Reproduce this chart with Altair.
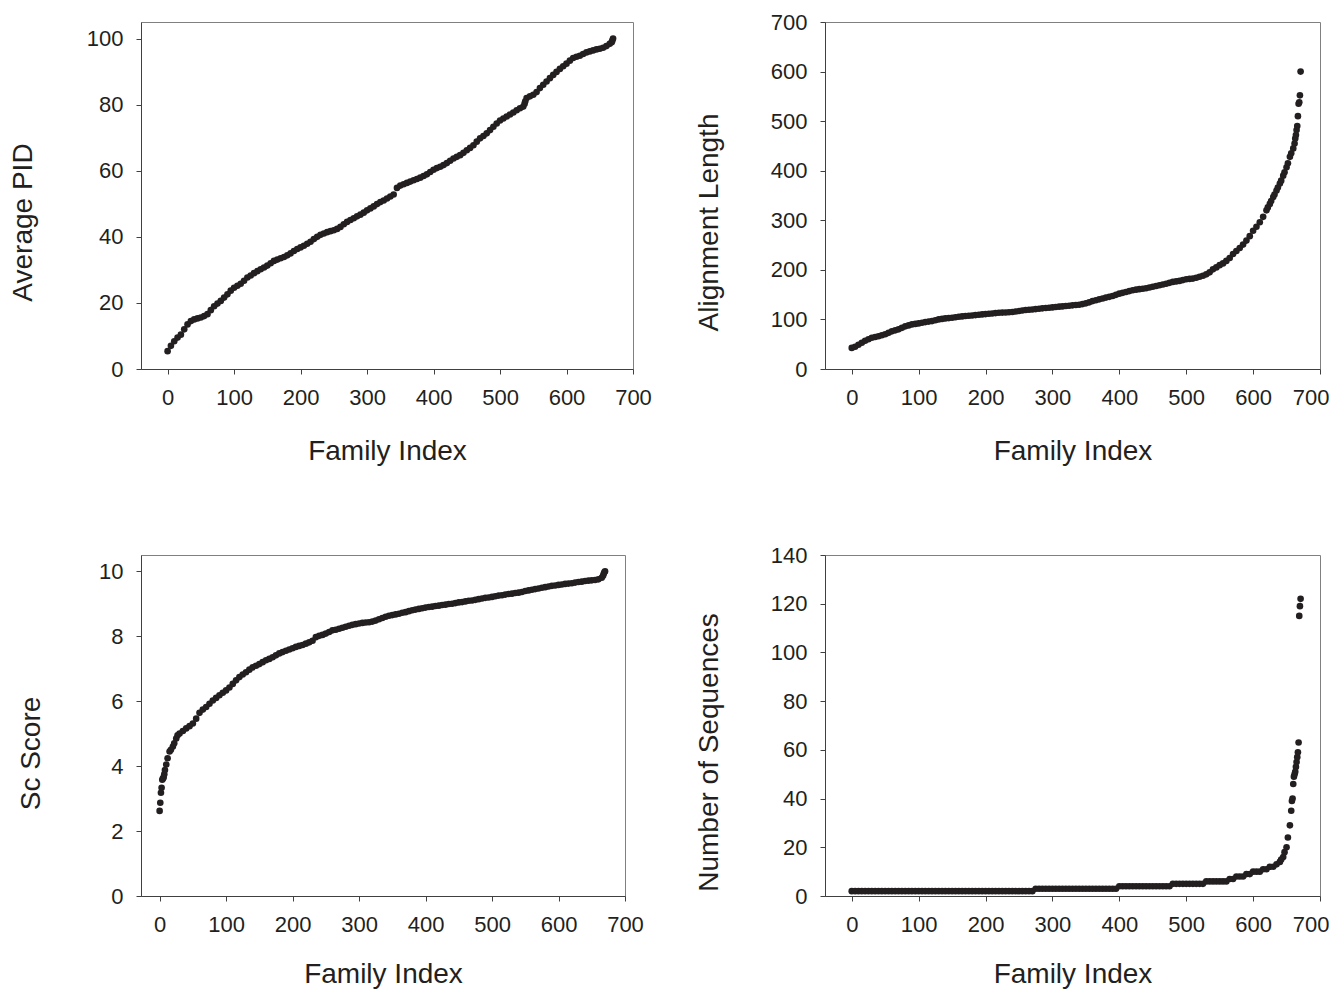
import altair as alt
import pandas as pd

# ---------------- data ----------------
grid_idx = list(range(0, 671, 5))

pid_val = [5.4, 7.0, 8.4, 9.5, 10.4, 12.0, 13.5, 14.5, 15.0, 15.3,
           15.6, 16.0, 16.6, 17.8, 19.0, 19.8, 20.6, 21.6, 22.6, 23.7,
           24.6, 25.2, 25.8, 26.7, 27.7, 28.3, 29.0, 29.6, 30.2, 30.7,
           31.3, 32.0, 32.7, 33.1, 33.5, 33.9, 34.4, 35.0, 35.7, 36.3,
           36.8, 37.3, 37.9, 38.5, 39.3, 40.0, 40.6, 41.0, 41.4, 41.7,
           42.0, 42.4, 43.0, 43.8, 44.5, 45.1, 45.6, 46.2, 46.7, 47.3,
           48.0, 48.6, 49.2, 49.9, 50.5, 51.0, 51.6, 52.2, 52.8, 54.8,
           55.5, 55.9, 56.3, 56.7, 57.1, 57.5, 57.9, 58.4, 58.9, 59.6,
           60.3, 60.8, 61.2, 61.7, 62.3, 63.0, 63.7, 64.2, 64.7, 65.4,
           66.2, 66.9, 67.7, 68.8, 69.8, 70.5, 71.3, 72.3, 73.3, 74.3,
           75.2, 75.8, 76.4, 77.0, 77.6, 78.3, 78.9, 79.4, 82.0, 82.5,
           83.0, 83.8, 85.0, 86.0, 87.0, 88.0, 89.0, 89.9, 90.8, 91.6,
           92.4, 93.3, 94.1, 94.5, 94.8, 95.3, 95.8, 96.1, 96.4, 96.7,
           96.9, 97.2, 97.7, 98.4, 100.0]
pid_extra_idx = [537, 538, 668, 669]
pid_extra_val = [80.3, 81.0, 98.9, 99.4]

aln_val = [42.6, 45, 49, 53, 57, 60, 63, 64.5, 66, 68,
           70, 73, 76, 78, 80, 83, 86, 88, 90, 91,
           92, 93.3, 94.6, 95.6, 96.6, 98.3, 100, 101, 102, 102.7,
           103.4, 104.4, 105.4, 106.1, 106.8, 107.4, 108, 108.7, 109.5, 110.1,
           110.8, 111.4, 112, 112.8, 113.5, 113.8, 114, 114.5, 115, 116,
           117, 118, 119, 119.5, 120, 120.8, 121.6, 122.3, 123, 123.6,
           124.3, 125, 125.7, 126.3, 127, 127.7, 128.4, 129, 129.7, 131,
           132.4, 134.5, 137, 138.8, 140.5, 142.2, 144, 145.6, 147.3, 149.6,
           152, 153.7, 155.4, 157.1, 158.8, 160, 161, 162, 163, 164.5,
           166, 167.5, 169, 170.5, 172, 173.8, 175.7, 176.7, 177.7, 179.3,
           181, 181.7, 182.4, 184, 186, 188, 191, 195, 201, 205,
           209.5, 213, 218, 224, 232, 238, 244, 251, 259, 268,
           279, 287, 296, 307, 320, 333, 347, 360, 374, 390,
           407, 428, 445, 482]
aln_extra_idx = [622, 627, 632, 637, 642, 647, 652, 657, 662, 663, 664,
                 666, 667, 668, 669, 670, 671]
aln_extra_val = [326, 339, 352, 366, 380, 397, 415, 435, 455, 465, 472,
                 490, 510, 535, 538, 552, 600]

sc_val = [2.62, 3.62, 4.05, 4.45, 4.6, 4.85, 5.0, 5.08, 5.16, 5.23,
          5.31, 5.46, 5.64, 5.74, 5.82, 5.92, 6.02, 6.1, 6.18, 6.26,
          6.33, 6.42, 6.53, 6.64, 6.74, 6.82, 6.89, 6.97, 7.04, 7.09,
          7.14, 7.2, 7.26, 7.3, 7.35, 7.41, 7.47, 7.51, 7.55, 7.59,
          7.63, 7.67, 7.7, 7.73, 7.77, 7.81, 7.86, 7.97, 8.01, 8.04,
          8.08, 8.13, 8.18, 8.2, 8.23, 8.26, 8.29, 8.32, 8.35, 8.37,
          8.39, 8.41, 8.42, 8.43, 8.45, 8.48, 8.52, 8.56, 8.6, 8.63,
          8.65, 8.67, 8.69, 8.72, 8.74, 8.77, 8.8, 8.82, 8.84, 8.86,
          8.88, 8.9, 8.91, 8.93, 8.94, 8.96, 8.97, 8.99, 9.0, 9.02,
          9.04, 9.05, 9.07, 9.09, 9.1, 9.12, 9.14, 9.16, 9.18, 9.19,
          9.21, 9.23, 9.25, 9.26, 9.28, 9.3, 9.31, 9.33, 9.34, 9.36,
          9.39, 9.41, 9.43, 9.45, 9.47, 9.49, 9.51, 9.53, 9.55, 9.56,
          9.58, 9.59, 9.61, 9.62, 9.63, 9.65, 9.67, 9.68, 9.7, 9.71,
          9.72, 9.73, 9.75, 9.8, 10.0]
sc_extra_idx = [1, 2, 3, 4, 6, 7, 8, 12, 17, 22, 27, 667, 668, 669]
sc_extra_val = [2.87, 3.18, 3.33, 3.58, 3.65, 3.75, 3.88, 4.24, 4.5, 4.7, 4.95,
                9.86, 9.92, 9.97]

seq_val = [2, 2, 2, 2, 2, 2, 2, 2, 2, 2,
           2, 2, 2, 2, 2, 2, 2, 2, 2, 2,
           2, 2, 2, 2, 2, 2, 2, 2, 2, 2,
           2, 2, 2, 2, 2, 2, 2, 2, 2, 2,
           2, 2, 2, 2, 2, 2, 2, 2, 2, 2,
           2, 2, 2, 2, 2, 3, 3, 3, 3, 3,
           3, 3, 3, 3, 3, 3, 3, 3, 3, 3,
           3, 3, 3, 3, 3, 3, 3, 3, 3, 3,
           4, 4, 4, 4, 4, 4, 4, 4, 4, 4,
           4, 4, 4, 4, 4, 4, 5, 5, 5, 5,
           5, 5, 5, 5, 5, 5, 6, 6, 6, 6,
           6, 6, 6, 7, 7, 8, 8, 8, 9, 9,
           10, 10, 10, 11, 11, 12, 12, 13, 14, 16,
           20, 29, 46, 55, 119]
seq_extra_idx = [642, 647, 652, 657, 658, 659, 661, 662, 663, 664,
                 666, 667, 668, 669, 671]
seq_extra_val = [15, 18, 24, 35, 39, 40, 49, 50, 51, 53,
                 57, 59, 63, 115, 122]

x_ticks = [0, 100, 200, 300, 400, 500, 600, 700]

INK = "#231f20"
FONT = "Liberation Sans"


def panel(vals, extra_idx, extra_val, ytitle, ymax, ystep, top_val, w, h, ytp,
          title_y, xmin=-40, x_tp=29, flush_right=False):
    df = pd.DataFrame({"i": grid_idx[:len(vals)] + extra_idx, "v": vals + extra_val})
    yt = [k * ystep for k in range(int(round(ymax / ystep)) + 1)]
    xaxis_kw = dict(values=x_ticks, title="Family Index",
                    labelPadding=13, titlePadding=x_tp)
    if flush_right:
        xaxis_kw.update(labelFlush=True, labelFlushOffset=9)
    return (
        alt.Chart(df)
        .mark_circle(size=44, color=INK, opacity=1)
        .encode(
            x=alt.X("i:Q",
                    scale=alt.Scale(domain=[xmin, 700], nice=False, zero=False),
                    axis=alt.Axis(**xaxis_kw)),
            y=alt.Y("v:Q",
                    scale=alt.Scale(domain=[0, top_val], nice=False),
                    axis=alt.Axis(values=yt, title=ytitle,
                                  labelPadding=13, titlePadding=ytp,
                                  titleY=title_y)),
        )
        .properties(width=w, height=h)
    )


H1, H2 = 347, 341
p1 = panel(pid_val, pid_extra_idx, pid_extra_val, "Average PID", 100, 20, 105,
           492, H1, 49, 200)
p2 = panel(aln_val, aln_extra_idx, aln_extra_val, "Alignment Length", 700, 100, 700,
           495, H1, 47, 200, flush_right=True)
p3 = panel(sc_val, sc_extra_idx, sc_extra_val, "Sc Score", 10, 2, 10.5,
           484, H2, 53, 198, xmin=-28, x_tp=25)
p4 = panel(seq_val, seq_extra_idx, seq_extra_val, "Number of Sequences", 140, 20, 140,
           495, H2, 47, 197, x_tp=25, flush_right=True)

row1 = alt.hconcat(p1, p2, spacing=42)
row2 = alt.hconcat(p3, p4, spacing=50)

chart = (
    alt.vconcat(row1, row2, spacing=77)
    .properties(background="white",
                padding={"left": 0, "top": 2, "right": 0, "bottom": 0})
    .configure_axis(
        labelFont=FONT, titleFont=FONT,
        labelFontSize=22, titleFontSize=28, titleFontWeight="normal",
        labelColor=INK, titleColor=INK,
        domainColor="#404040", tickColor="#404040",
        tickSize=5, grid=False, labelFlush=False, labelOverlap=False,
    )
    .configure_view(stroke="#808080", strokeWidth=1)
)

chart.save("out.html", embed_options={"renderer": "svg", "actions": False})
